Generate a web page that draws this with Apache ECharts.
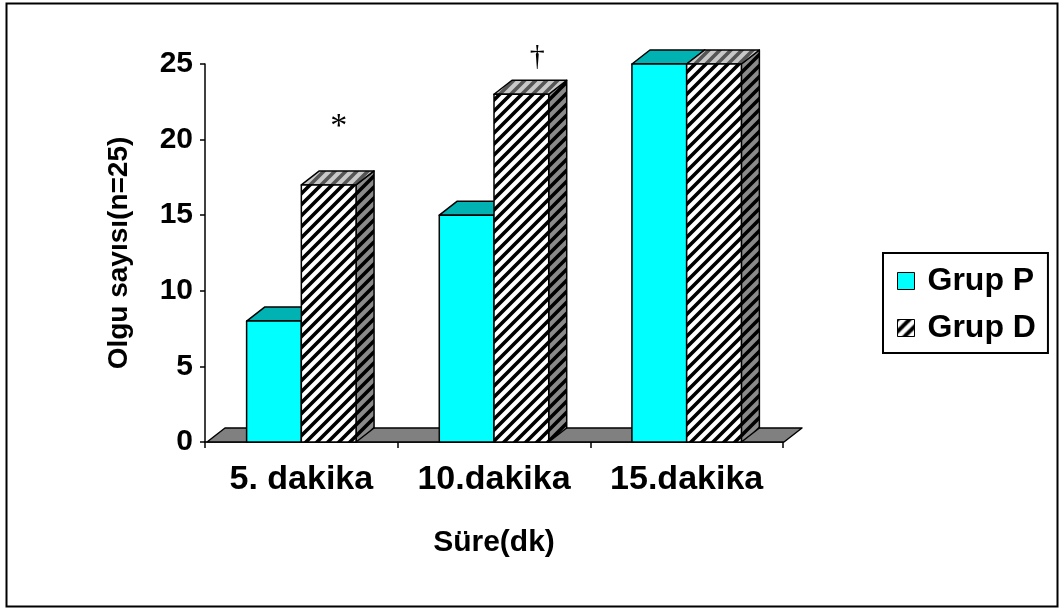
<!DOCTYPE html>
<html>
<head>
<meta charset="utf-8">
<script src="https://cdn.jsdelivr.net/npm/echarts@6/dist/echarts.min.js"></script>
<style>
  html, body { margin: 0; padding: 0; background: #fff; }
  #chart { width: 1059px; height: 608px; }
</style>
</head>
<body>
<div id="chart"></div>
<script>
// ---- data ----
const categories = ['5. dakika', '10.dakika', '15.dakika'];
const seriesNames = ['Grup P', 'Grup D'];
const grupP = [8, 15, 25];
const grupD = [17, 23, 25];
const grupDMarks = ['*', '\u2020', ''];
const yTicks = [0, 5, 10, 15, 20, 25];
const xTitle = 'Süre(dk)';
const yTitle = 'Olgu sayısı(n=25)';

const FONT = '"Liberation Sans", Arial, sans-serif';

// ---- hatch fills ("/" stripes) ----
function hatch(bg, ink, lw, size) {
  const s = size || 11;
  const cv = document.createElement('canvas');
  cv.width = cv.height = s;
  const g = cv.getContext('2d');
  g.fillStyle = bg;
  g.fillRect(0, 0, s, s);
  g.strokeStyle = ink;
  g.lineWidth = lw;
  g.beginPath();
  g.moveTo(-s / 2, s / 2); g.lineTo(s / 2, -s / 2);
  g.moveTo(0, s); g.lineTo(s, 0);
  g.moveTo(s / 2, 1.5 * s); g.lineTo(1.5 * s, s / 2);
  g.stroke();
  return { image: cv, repeat: 'repeat' };
}

const facesP = { front: '#00ffff', top: '#00b2b2', side: '#008c8c' };
const facesD = {
  front: hatch('#ffffff', '#000000', 3.6),
  top: hatch('#c8c8c8', '#555555', 3.6),
  side: hatch('#8a8a8a', '#000000', 3.6)
};

// depth of the extruded boxes, in pixels
const DEPTH_X = 18;
const DEPTH_Y = 14;
// share of a category band taken by one box front
const BAR_SHARE = 0.284;
// nudge for the significance marks, relative to the top of their box
const MARK_NUDGE = [[1, -58], [7, -37], [0, 0]];
const MARK_SIZE = [34, 30, 30];

const edge = { stroke: '#000', lineWidth: 1.5, lineJoin: 'round' };

function boxRenderer(sideOfCenter, faces, marks) {
  return function (params, api) {
    const i = api.value(0);
    const v = api.value(1);
    const top = api.coord([i, v]);
    const yBase = api.coord([i, 0])[1];
    const band = api.size([1, 0])[0];
    const w = band * BAR_SHARE;
    const x0 = sideOfCenter === 'left' ? top[0] - w : top[0];
    const x1 = x0 + w;
    const yTop = top[1];
    const children = [
      {
        type: 'polygon',
        shape: { points: [[x1, yTop], [x1 + DEPTH_X, yTop - DEPTH_Y], [x1 + DEPTH_X, yBase - DEPTH_Y], [x1, yBase]] },
        style: Object.assign({ fill: faces.side }, edge)
      },
      {
        type: 'polygon',
        shape: { points: [[x0, yTop], [x1, yTop], [x1 + DEPTH_X, yTop - DEPTH_Y], [x0 + DEPTH_X, yTop - DEPTH_Y]] },
        style: Object.assign({ fill: faces.top }, edge)
      },
      {
        type: 'rect',
        shape: { x: x0, y: yTop, width: w, height: yBase - yTop },
        style: Object.assign({ fill: faces.front }, edge)
      }
    ];
    const k = params.dataIndex;
    const mark = marks && marks[k];
    if (mark) {
      children.push({
        type: 'text',
        x: (x0 + x1) / 2 + DEPTH_X / 2 + MARK_NUDGE[k][0],
        y: yTop + MARK_NUDGE[k][1],
        style: {
          text: mark,
          fill: '#000',
          font: MARK_SIZE[k] + 'px "Liberation Serif", "DejaVu Serif", serif',
          align: 'center',
          verticalAlign: 'middle'
        }
      });
    }
    return { type: 'group', children: children };
  };
}

// grey floor under the boxes
function floorRenderer(params, api) {
  const cs = params.coordSys;
  const yBase = api.coord([0, 0])[1];
  const xl = cs.x + 2;
  const xr = cs.x + cs.width + 1;
  return {
    type: 'polygon',
    shape: { points: [[xl, yBase], [xr, yBase], [xr + DEPTH_X, yBase - DEPTH_Y], [xl + DEPTH_X, yBase - DEPTH_Y]] },
    style: Object.assign({ fill: '#808080' }, edge)
  };
}

const textBold = { fontFamily: FONT, fontWeight: 'bold', color: '#000' };

const chart = echarts.init(document.getElementById('chart'), null, { renderer: 'canvas' });
chart.setOption({
  animation: false,
  backgroundColor: '#fff',
  grid: { left: 205, top: 64, width: 578, height: 378, containLabel: false },
  xAxis: {
    type: 'category',
    data: categories,
    boundaryGap: true,
    axisLine: { lineStyle: { color: '#000', width: 1.5 } },
    axisTick: { show: true, length: 6, lineStyle: { color: '#000', width: 1.5 } },
    axisLabel: Object.assign({ fontSize: 34, margin: 21, interval: 0 }, textBold),
    splitLine: { show: false },
    name: xTitle,
    nameLocation: 'middle',
    nameGap: 86,
    nameTextStyle: Object.assign({ fontSize: 30 }, textBold)
  },
  yAxis: {
    type: 'value',
    min: yTicks[0],
    max: yTicks[yTicks.length - 1],
    interval: yTicks[1] - yTicks[0],
    axisLine: { show: true, lineStyle: { color: '#000', width: 1.5 } },
    axisTick: { show: true, length: 5, lineStyle: { color: '#000', width: 1.5 } },
    axisLabel: Object.assign({ fontSize: 30, margin: 12 }, textBold),
    splitLine: { show: false },
    name: yTitle,
    nameLocation: 'middle',
    nameGap: 72,
    nameTextStyle: Object.assign({ fontSize: 28 }, textBold)
  },
  legend: {
    orient: 'vertical',
    left: 883,
    top: 253,
    padding: [8, 12, 5, 14],
    borderColor: '#000',
    borderWidth: 2,
    itemWidth: 17,
    itemHeight: 17,
    itemGap: 7,
    icon: 'rect',
    selectedMode: false,
    textStyle: Object.assign({ fontSize: 32, lineHeight: 40, padding: [0, 0, 0, 8] }, textBold),
    data: [
      { name: seriesNames[0], itemStyle: { color: facesP.front, borderColor: '#000', borderWidth: 1 } },
      { name: seriesNames[1], itemStyle: { color: hatch('#ffffff', '#000000', 4, 12), borderColor: '#000', borderWidth: 1 } }
    ]
  },
  graphic: [{
    type: 'rect',
    left: 4, top: 1,
    shape: { width: 1051, height: 603 },
    style: { fill: 'none', stroke: '#000', lineWidth: 2 },
    silent: true
  }],
  series: [
    {
      type: 'custom',
      name: 'floor',
      silent: true,
      renderItem: floorRenderer,
      data: [[0, 0]],
      z: 1
    },
    {
      type: 'custom',
      name: seriesNames[0],
      renderItem: boxRenderer('left', facesP, null),
      itemStyle: { color: facesP.front },
      data: grupP.map((v, i) => [i, v]),
      z: 2
    },
    {
      type: 'custom',
      name: seriesNames[1],
      renderItem: boxRenderer('right', facesD, grupDMarks),
      itemStyle: { color: '#ffffff' },
      data: grupD.map((v, i) => [i, v]),
      z: 3
    }
  ]
});
</script>
</body>
</html>
